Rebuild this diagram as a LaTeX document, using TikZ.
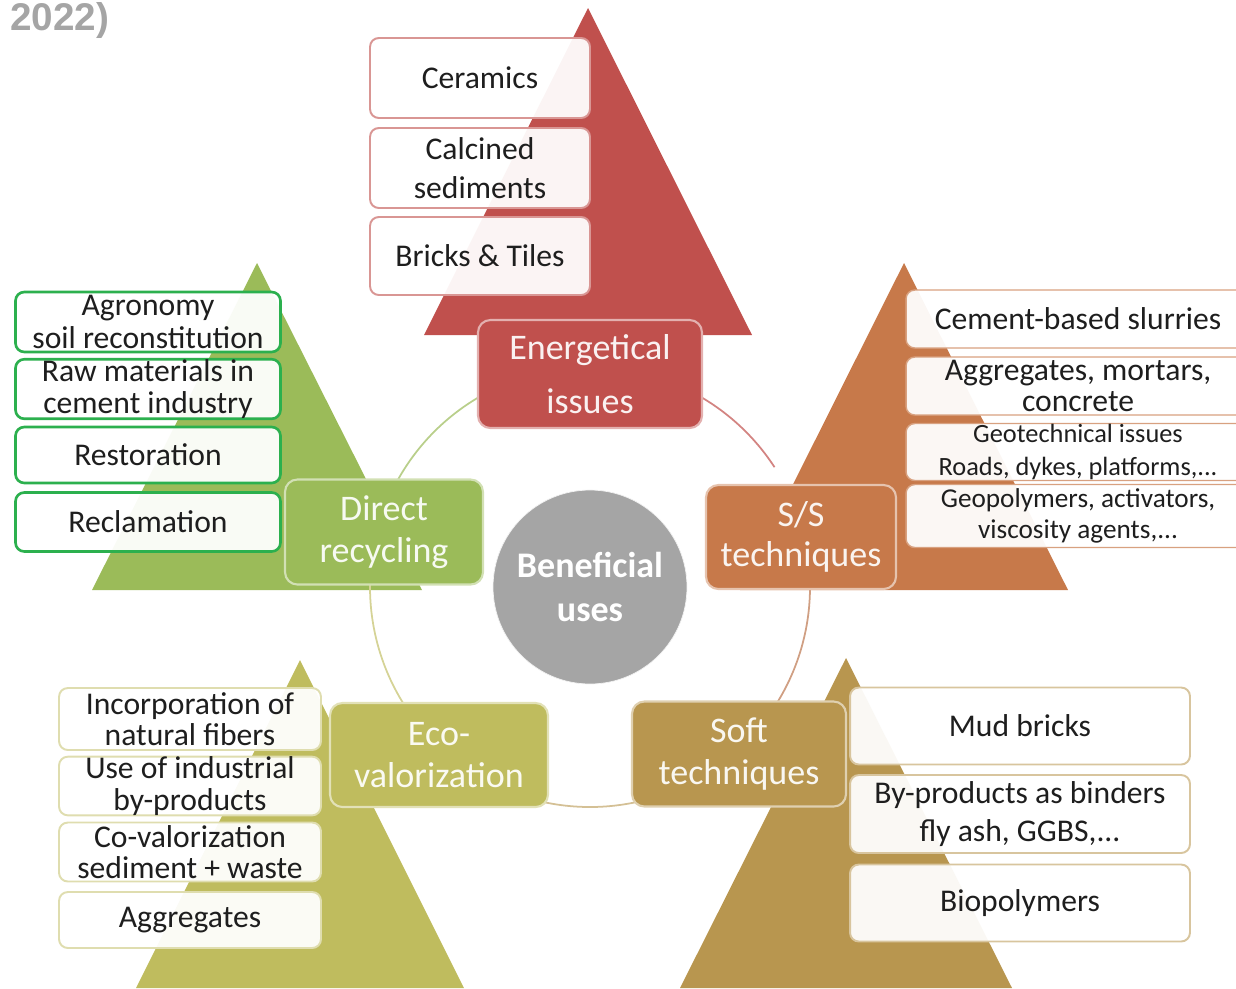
\documentclass[tikz,border=0pt]{standalone}
\usepackage{fontspec}
\setmainfont{Carlito}
\setsansfont{Liberation Sans}

\definecolor{redc}{HTML}{C0504D}
\definecolor{greenc}{HTML}{9BBB59}
\definecolor{orangec}{HTML}{C7794A}
\definecolor{olivec}{HTML}{BFBC5E}
\definecolor{brownc}{HTML}{B8964F}
\definecolor{grayc}{HTML}{A5A5A5}
\definecolor{txt}{HTML}{1E1E1E}
\definecolor{linegreen}{HTML}{2CB04E}

\tikzset{
    usebox/.style={rectangle, rounded corners=5pt, fill=white, fill opacity=0.94, text opacity=1,
        line width=1.1pt, inner sep=0pt, align=center, text=txt, font=\fontsize{18}{22}\selectfont},
    catbox/.style={rectangle, rounded corners=7pt, fill=#1, draw=white!55!#1, line width=1.2pt,
        inner sep=0pt, align=center, text=white!92!#1, font=\fontsize{20.5}{24}\selectfont},
    ringarc/.style={line width=1pt, draw=#1},
}

\begin{document}
\begin{tikzpicture}[x=0.02cm, y=-0.02cm]
    \useasboundingbox (0,0) rectangle (1236,988);

    \node[anchor=base west, text=grayc, font=\sffamily\bfseries\fontsize{22}{24}\selectfont] (year) at (4,30) {2022)};

    % pyramids
    \fill[redc] (588,8) -- (752,335) -- (424,335) -- cycle;
    \fill[greenc] (257,263) -- (422,590) -- (92,590) -- cycle;
    \fill[orangec] (904,263) -- (1068,590) -- (740,590) -- cycle;
    \fill[olivec] (300,660) -- (464,988) -- (136,988) -- cycle;
    \fill[brownc] (846,658) -- (1012,988) -- (680,988) -- cycle;

    % ring round the centre
    \coordinate (hub) at (590,587);
    \draw[ringarc=redc!70!white] (hub) ++(-65:220) arc[start angle=-65, end angle=-33, radius=220];
    \draw[ringarc=redc!45!brownc!70!white] (hub) ++(-5:220) arc[start angle=-5, end angle=35, radius=220];
    \draw[ringarc=brownc!60!white] (hub) ++(75:220) arc[start angle=75, end angle=105, radius=220];
    \draw[ringarc=olivec!65!white] (hub) ++(145:220) arc[start angle=145, end angle=185, radius=220];
    \draw[ringarc=greenc!70!white] (hub) ++(-155:220) arc[start angle=-155, end angle=-115, radius=220];

    % energetical issues
    \node[usebox, draw=redc!60!white, minimum width=4.4cm, minimum height=1.6cm] (ceram) at (480,78) {Ceramics};
    \node[usebox, draw=redc!60!white, minimum width=4.4cm, minimum height=1.6cm] (calc) at (480,168) {Calcined\\sediments};
    \node[usebox, draw=redc!60!white, minimum width=4.4cm, minimum height=1.56cm] (brick) at (480,256) {Bricks \& Tiles};

    % direct recycling
    \node[usebox, draw=linegreen, line width=1.5pt, font=\fontsize{18}{18.5}\selectfont, minimum width=5.3cm, minimum height=1.2cm] (agro) at (148,322) {Agronomy\\soil reconstitution};
    \node[usebox, draw=linegreen, line width=1.5pt, font=\fontsize{18}{18.5}\selectfont, minimum width=5.3cm, minimum height=1.18cm] (raw) at (148,389) {Raw materials in\\cement industry};
    \node[usebox, draw=linegreen, line width=1.5pt, minimum width=5.3cm, minimum height=1.12cm] (resto) at (148,455) {Restoration};
    \node[usebox, draw=linegreen, line width=1.5pt, minimum width=5.3cm, minimum height=1.18cm] (recla) at (148,522) {Reclamation};

    % s/s techniques
    \node[usebox, draw=orangec!70!white, line width=0.8pt, minimum width=6.88cm, minimum height=1.16cm] (slurry) at (1078,319) {Cement-based slurries};
    \node[usebox, draw=orangec!70!white, line width=0.8pt, font=\fontsize{18}{18}\selectfont, minimum width=6.88cm, minimum height=1.16cm] (mortar) at (1078,386) {Aggregates, mortars,\\concrete};
    \node[usebox, draw=orangec!70!white, line width=0.8pt, font=\fontsize{15}{18.5}\selectfont, minimum width=6.88cm, minimum height=1.14cm] (geot) at (1078,452) {Geotechnical issues\\Roads, dykes, platforms,...};
    \node[usebox, draw=orangec!70!white, line width=0.8pt, font=\fontsize{15.5}{18}\selectfont, minimum width=6.88cm, minimum height=1.26cm] (geopol) at (1078,516) {Geopolymers, activators,\\viscosity agents,...};

    % eco-valorization
    \node[usebox, draw=olivec!50!white, font=\fontsize{18}{18}\selectfont, minimum width=5.24cm, minimum height=1.24cm] (fiber) at (190,719) {Incorporation of\\natural fibers};
    \node[usebox, draw=olivec!50!white, font=\fontsize{18}{18}\selectfont, minimum width=5.24cm, minimum height=1.16cm] (indus) at (190,786) {Use of industrial\\by-products};
    \node[usebox, draw=olivec!50!white, font=\fontsize{18}{18}\selectfont, minimum width=5.24cm, minimum height=1.18cm] (coval) at (190,852) {Co-valorization\\sediment + waste};
    \node[usebox, draw=olivec!50!white, minimum width=5.24cm, minimum height=1.12cm] (aggr) at (190,920) {Aggregates};

    % soft techniques
    \node[usebox, draw=brownc!55!white, minimum width=6.8cm, minimum height=1.54cm] (mud) at (1020,726) {Mud bricks};
    \node[usebox, draw=brownc!55!white, minimum width=6.8cm, minimum height=1.56cm] (binder) at (1020,814) {By-products as binders\\fly ash, GGBS,...};
    \node[usebox, draw=brownc!55!white, minimum width=6.8cm, minimum height=1.54cm] (biopol) at (1020,903) {Biopolymers};

    % categories
    \node[catbox=redc, font=\fontsize{20.5}{31}\selectfont, minimum width=4.48cm, minimum height=2.16cm] (ener) at (590,374) {Energetical\\issues};
    \node[catbox=greenc, minimum width=3.96cm, minimum height=2.1cm] (direct) at (384,532) {Direct\\recycling};
    \node[catbox=orangec, font=\fontsize{20.5}{22.5}\selectfont, minimum width=3.8cm, minimum height=2.08cm] (sstech) at (801,537) {S/S\\techniques};
    \node[catbox=olivec, minimum width=4.36cm, minimum height=2.08cm] (eco) at (439,755) {Eco-\\valorization};
    \node[catbox=brownc, minimum width=4.28cm, minimum height=2.1cm] (soft) at (739,754) {Soft\\techniques};

    \node[circle, fill=grayc, draw=white!85!grayc, minimum size=3.88cm, inner sep=0pt, align=center, text=white,
        font=\bfseries\fontsize{20.5}{25}\selectfont] (benef) at (590,587) {Beneficial\\uses};
\end{tikzpicture}
\end{document}
